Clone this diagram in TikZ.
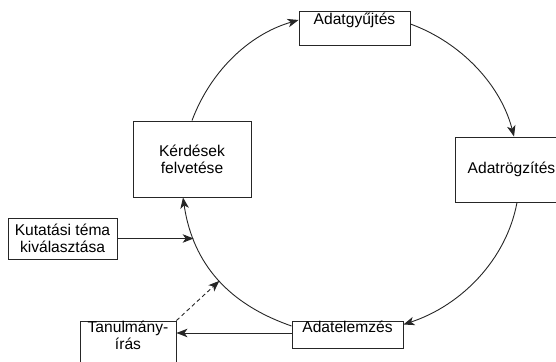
\documentclass[tikz,border=0pt]{standalone}
\usepackage{fontspec}
\setmainfont{Liberation Sans}
\usetikzlibrary{arrows.meta}
\begin{document}
\begin{tikzpicture}[x=1pt,y=1pt,
  txt/.style={font=\fontsize{15.6}{17}\selectfont},
  box/.style={draw=black!85, line width=0.9pt, inner sep=0pt, align=center, txt},
  link/.style={draw=black!85, line width=0.9pt, -{Stealth[length=11pt,width=8.5pt,inset=3pt]}},
  toptext/.style 2 args={label={[anchor=base, inner sep=0pt, yshift=-#1, txt]north:#2}}
]
\useasboundingbox (0,0) rectangle (556,361);
\clip (0,0) rectangle (556,361);

% process steps
\node[box, minimum width=111pt, minimum height=34pt, toptext={14pt}{Adatgyűjtés}] (gyujt) at (354.5,333) {};
\node[box, minimum width=113pt, minimum height=65pt] (rogz) at (511.5,191.5) {Adatrögzítés};
\node[box, minimum width=111pt, minimum height=27pt, toptext={12pt}{Adatelemzés}] (elemz) at (347.5,26.5) {};
\node[box, minimum width=118pt, minimum height=76pt] (kerdes) at (192,202) {Kérdések\\felvetése};
\node[box, minimum width=109pt, minimum height=41pt] (kutat) at (62.5,122.5) {Kutatási téma\\kiválasztása};
\node[box, minimum width=96pt, minimum height=51pt,
  toptext={12pt}{\begin{tabular}[t]{@{}c@{}}Tanulmány-\\írás\end{tabular}}] (tanul) at (128,14.5) {};

% research cycle
\draw[link] (kerdes.north) to[out=69.5, in=196.2, out distance=51pt, in distance=53pt] ([yshift=8pt]gyujt.west);
\draw[link] ([yshift=4pt]gyujt.east) to[out=-20.1, in=104.4, out distance=54.8pt, in distance=52.6pt] ([xshift=2.5pt]rogz.north);
\draw[link] ([xshift=5.5pt]rogz.south) to[out=-100.5, in=18.2, out distance=58.3pt, in distance=60.7pt] ([yshift=10pt]elemz.east);
\draw[link] ([yshift=8.5pt]elemz.west) to[out=160.9, in=-81.6, out distance=75pt, in distance=59.2pt]
  coordinate[pos=0.45] (hit) coordinate[pos=0.75] (kt) ([xshift=-9pt]kerdes.south);

% entry and exit branches
\draw[link] (kutat.east) -- (kutat.east -| kt);
\draw[link] ([yshift=1.5pt]elemz.west) -- ([yshift=1.5pt]elemz.west -| tanul.east);
\draw[link, dash pattern=on 4pt off 3pt] (tanul.north east) -- (hit);
\end{tikzpicture}
\end{document}
